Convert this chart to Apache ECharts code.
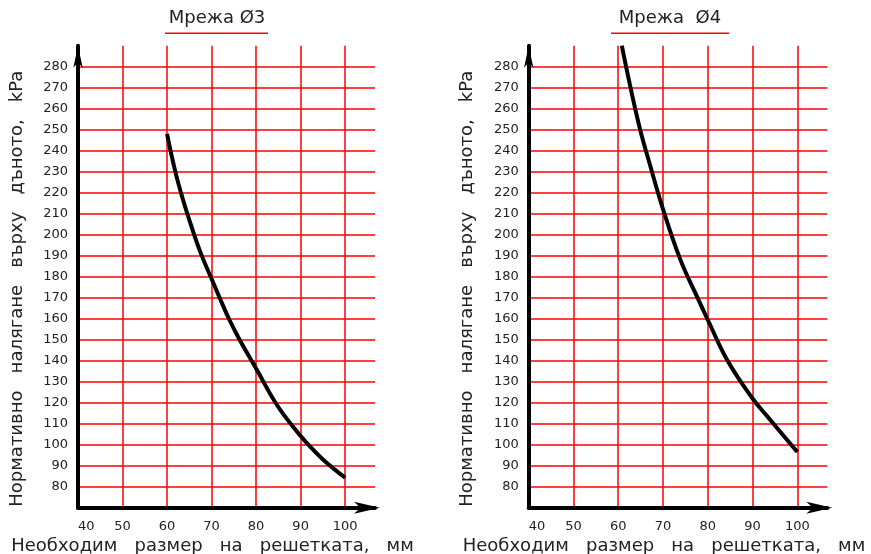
<!DOCTYPE html>
<html>
<head>
<meta charset="utf-8">
<script src="https://cdn.jsdelivr.net/npm/echarts@6/dist/echarts.min.js"></script>
<style>
  html, body { margin: 0; padding: 0; background: #fff; }
  #chart { width: 871px; height: 554px; }
</style>
</head>
<body>
<div id="chart"></div>
<script>
'use strict';

// mesh size, mm  ->  normative bottom pressure, kPa
const sizeMesh3 = [60, 61.8, 63.6, 65.7, 67.7, 70, 72, 74, 76.3, 80, 84.5, 88.3, 91.3, 95, 100];
const loadMesh3 = [248, 230.5, 216.5, 202.5, 190.5, 179, 169, 159.5, 150, 136.3, 119.5, 108.5, 101, 93, 84.3];

const sizeMesh4 = [60.8, 62.7, 64.9, 67.2, 69.8, 73.9, 77.6, 80, 84.3, 90, 93.3, 100];
const loadMesh4 = [290, 270.5, 250, 232.5, 213.5, 188, 170.5, 159.5, 140.5, 122, 113.5, 96.5];

const panelTitles = ['Мрежа Ø3', 'Мрежа  Ø4'];
const xName = 'Необходим   размер   на   решетката,   мм';
const yName = 'Нормативно   налягане   върху   дъното,   kPa';

const xRange = [40, 106.7];
const yRange = [70, 290];
const tickStep = 10;

const font = 'DejaVu Sans';
const textColor = '#222';
const gridRed = '#ff0000';

const chart = echarts.init(document.getElementById('chart'));

const grids = [
  { left: 78, top: 45.7, width: 297, height: 462, outerBoundsMode: 'none', containLabel: false },
  { left: 528.7, top: 45.7, width: 298.6, height: 462, outerBoundsMode: 'none', containLabel: false }
];

const makeX = (i) => ({
  type: 'value',
  gridIndex: i,
  min: xRange[0],
  max: xRange[1],
  interval: tickStep,
  name: xName,
  nameLocation: 'middle',
  nameGap: 28,
  nameTextStyle: { fontFamily: font, fontSize: 18, color: textColor, padding: [0, 28, 0, 0] },
  axisLine: {
    show: true,
    onZero: false,
    lineStyle: { color: '#000', width: 4 },
    symbol: ['none', 'arrow'],
    symbolSize: [9, 26],
    symbolOffset: [0, 5]
  },
  axisTick: { show: false },
  axisLabel: {
    fontFamily: font, fontSize: 13, color: textColor, margin: 12,
    showMaxLabel: false, alignMinLabel: 'left'
  },
  splitLine: {
    show: true,
    showMinLine: false,
    showMaxLine: false,
    lineStyle: { color: gridRed, width: 1.5 }
  }
});

const makeY = (i) => ({
  type: 'value',
  gridIndex: i,
  min: yRange[0],
  max: yRange[1],
  interval: tickStep,
  name: yName,
  nameLocation: 'middle',
  nameRotate: 90,
  nameGap: 52,
  nameTextStyle: { fontFamily: font, fontSize: 18, color: textColor, padding: [0, 24, 0, 0] },
  axisLine: {
    show: true,
    onZero: false,
    lineStyle: { color: '#000', width: 4 },
    symbol: ['none', 'arrow'],
    symbolSize: [7, 22],
    symbolOffset: [0, 0]
  },
  axisTick: { show: false },
  axisLabel: {
    fontFamily: font, fontSize: 13, color: textColor, margin: 10,
    showMinLabel: false, showMaxLabel: false
  },
  splitLine: {
    show: true,
    showMinLine: false,
    showMaxLine: false,
    lineStyle: { color: gridRed, width: 1.5 }
  }
});

const curve = (i, xs, ys) => ({
  type: 'line',
  xAxisIndex: i,
  yAxisIndex: i,
  data: xs.map((x, k) => [x, ys[k]]),
  smooth: 0.4,
  symbol: 'none',
  clip: false,
  lineStyle: { color: '#000', width: 4 },
  silent: true
});

const option = {
  backgroundColor: '#fff',
  animation: false,
  title: panelTitles.map((t, i) => ({
    text: t,
    left: i === 0 ? 217 : 670,
    textAlign: 'center',
    top: 9,
    padding: 0,
    textStyle: { fontFamily: font, fontSize: 18, fontWeight: 'normal', color: textColor }
  })),
  graphic: [
    { type: 'line', shape: { x1: 165, y1: 33.25, x2: 268, y2: 33.25 }, style: { stroke: gridRed, lineWidth: 1.5 } },
    { type: 'line', shape: { x1: 611, y1: 33.25, x2: 729, y2: 33.25 }, style: { stroke: gridRed, lineWidth: 1.5 } }
  ],
  grid: grids,
  xAxis: [makeX(0), makeX(1)],
  yAxis: [makeY(0), makeY(1)],
  series: [
    curve(0, sizeMesh3, loadMesh3),
    curve(1, sizeMesh4, loadMesh4)
  ]
};

chart.setOption(option);
window.addEventListener('resize', () => chart.resize());
</script>
</body>
</html>
